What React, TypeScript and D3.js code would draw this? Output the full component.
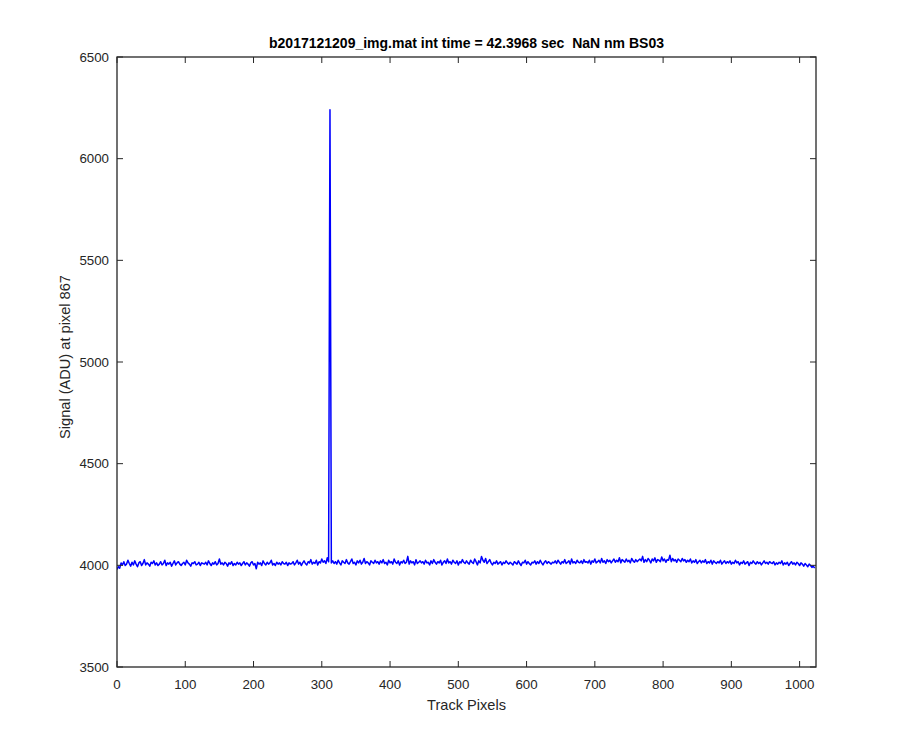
import React from "react";
import * as d3 from "d3";

const TITLE = "b2017121209_img.mat int time = 42.3968 sec  NaN nm BS03";
const X_LABEL = "Track Pixels";
const Y_LABEL = "Signal (ADU) at pixel 867";
const X_TICKS = [0, 100, 200, 300, 400, 500, 600, 700, 800, 900, 1000];
const Y_TICKS = [3500, 4000, 4500, 5000, 5500, 6000, 6500];
const X_DOMAIN = [0, 1024];
const Y_DOMAIN = [3500, 6500];
const BASE = 4000;
const X_STEP = 2;
// signal minus BASE, every X_STEP track pixels
const signalOffset = [
  -20,-7,-14,12,2,18,-1,6,25,9,-4,15,2,22,6,-7,12,18,-1,9,28,2,12,6,-4,15,9,22,2,12,-1,6,
  18,2,9,25,-1,12,6,15,-4,9,22,2,12,18,6,-1,9,15,2,25,12,6,-4,12,9,18,2,6,15,-1,12,9,
  6,15,2,22,9,-1,12,6,18,2,9,31,6,12,2,15,9,-4,12,6,18,-1,9,2,15,6,12,-1,9,18,2,12,
  6,-4,12,18,2,9,-17,15,6,12,-1,22,9,2,15,6,12,25,2,9,-1,15,6,12,2,18,9,6,15,-1,12,6,
  9,18,2,12,25,6,15,-1,12,22,9,2,18,12,28,6,15,9,25,2,18,12,31,15,22,9,37,18,2240,12,22,9,
  18,6,25,12,2,22,15,9,28,12,6,18,31,9,15,2,22,12,25,6,15,34,9,18,12,2,22,15,9,25,12,18,
  6,22,12,28,9,15,2,25,12,18,6,31,15,9,22,2,18,12,25,9,15,44,6,22,12,18,2,28,9,15,22,12,
  18,6,25,12,15,2,22,9,28,15,6,18,12,25,2,15,22,9,31,12,18,6,25,15,9,22,2,18,12,28,15,9,
  22,12,6,25,15,9,31,18,2,22,12,44,25,15,34,9,18,28,12,2,15,9,22,6,12,18,2,15,9,22,12,6,
  15,9,2,18,12,6,22,9,-1,15,12,25,6,18,9,2,15,12,22,6,18,9,25,12,2,15,22,9,18,12,6,15,
  12,22,9,25,15,6,18,12,28,9,15,22,6,31,12,18,9,25,15,12,22,9,28,15,18,12,25,6,22,15,31,12,
  18,25,12,34,15,22,9,28,18,25,12,22,31,15,25,18,37,12,28,22,15,31,18,25,12,34,22,15,28,18,25,31,
  22,44,15,28,18,34,25,12,31,22,37,15,28,25,18,41,22,31,15,28,25,50,18,34,22,28,15,31,25,18,34,22,
  28,15,25,18,31,12,22,15,28,9,18,25,12,22,15,28,9,18,12,25,6,22,15,9,18,12,25,6,15,22,9,18,
  12,22,6,15,9,25,12,18,2,15,9,22,6,12,18,-1,15,9,22,12,6,18,9,15,2,12,22,9,15,6,18,12,
  9,18,2,12,6,15,9,22,2,12,6,15,-1,9,18,6,12,2,15,9,-1,12,6,-4,9,2,-7,6,-1,-10,-4,-14,
];

const W = 900;
const H = 750;
const L = 117, R = 816, T = 57, B = 667;
const AXIS = "#262626";
const FONT = "'Liberation Sans', Arial, Helvetica, sans-serif";

export default function App() {
  const x = d3.scaleLinear().domain(X_DOMAIN).range([L, R]);
  const y = d3.scaleLinear().domain(Y_DOMAIN).range([B, T]);
  const pts: [number, number][] = signalOffset.map((v, i) => [i * X_STEP, BASE + v]);
  const line = d3
    .line<[number, number]>()
    .x((d) => x(d[0]))
    .y((d) => y(d[1]));
  const tl = 6;
  return (
    <svg
      width={W}
      height={H}
      style={{ position: "absolute", left: 0, top: 0, background: "#fff" }}
      fontFamily={FONT}
    >
      <rect x={0} y={0} width={W} height={H} fill="#fff" />
      <defs>
        <clipPath id="plotclip">
          <rect x={L} y={T} width={R - L} height={B - T} />
        </clipPath>
      </defs>
      <path
        d={line(pts) || ""}
        fill="none"
        stroke="#0000ff"
        strokeWidth={1.5}
        strokeLinejoin="round"
        clipPath="url(#plotclip)"
      />
      <g stroke={AXIS} strokeWidth={1}>
        {X_TICKS.map((t) => (
          <g key={"xt" + t}>
            <line x1={x(t)} x2={x(t)} y1={B} y2={B - tl} />
            <line x1={x(t)} x2={x(t)} y1={T} y2={T + tl} />
          </g>
        ))}
        {Y_TICKS.map((t) => (
          <g key={"yt" + t}>
            <line x1={L} x2={L + tl} y1={y(t)} y2={y(t)} />
            <line x1={R} x2={R - tl} y1={y(t)} y2={y(t)} />
          </g>
        ))}
        <rect x={L} y={T} width={R - L} height={B - T} fill="none" strokeWidth={1.3} />
      </g>
      <g fill={AXIS} fontSize={13.3}>
        {X_TICKS.map((t) => (
          <text key={"xl" + t} x={x(t)} y={B + 22} textAnchor="middle">
            {t}
          </text>
        ))}
        {Y_TICKS.map((t) => (
          <text key={"yl" + t} x={L - 8} y={y(t) + 4.5} textAnchor="end">
            {t}
          </text>
        ))}
        <text x={(L + R) / 2} y={710} textAnchor="middle" fontSize={14.6}>
          {X_LABEL}
        </text>
        <text
          transform={`translate(${70},${357}) rotate(-90)`}
          textAnchor="middle"
          fontSize={14.6}
        >
          {Y_LABEL}
        </text>
        <text
          x={(L + R) / 2}
          y={48}
          textAnchor="middle"
          fontWeight="bold"
          fill="#000"
          fontSize={14}
          style={{ whiteSpace: "pre" }}
          xmlSpace="preserve"
        >
          {TITLE}
        </text>
      </g>
    </svg>
  );
}
